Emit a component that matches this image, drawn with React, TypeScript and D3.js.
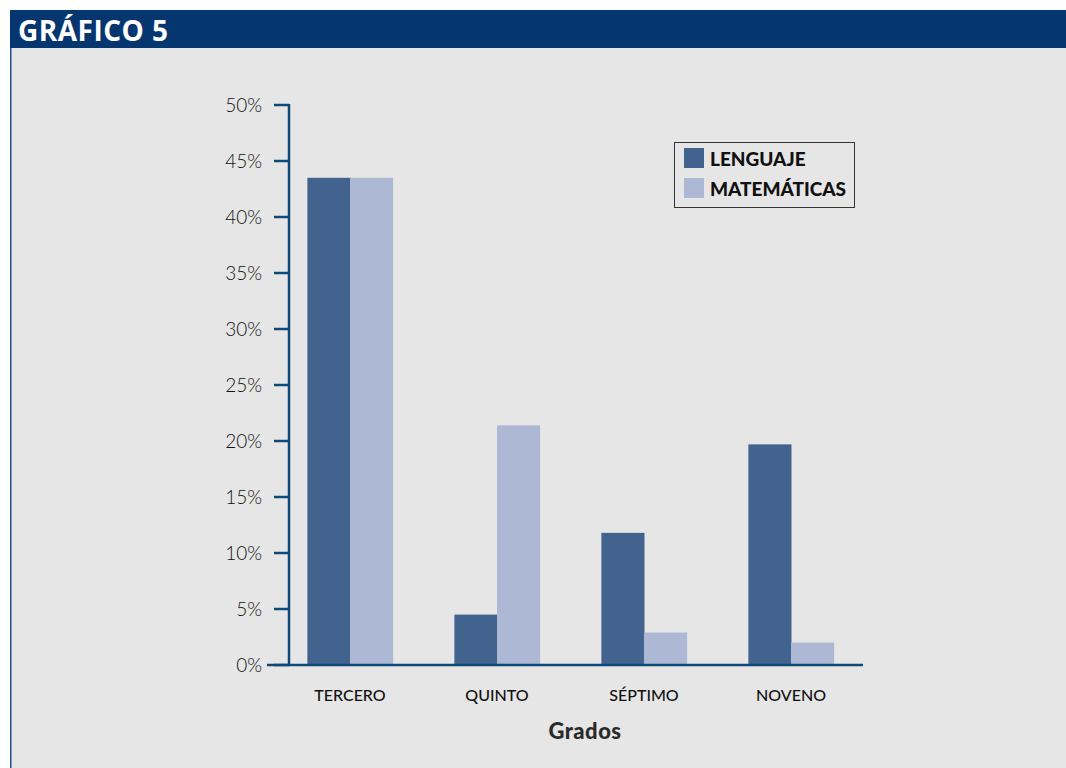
import React from "react";
import * as d3 from "d3";

const categories = ["TERCERO", "QUINTO", "SÉPTIMO", "NOVENO"];
const series = ["LENGUAJE", "MATEMÁTICAS"];
const lenguaje = [43.5, 4.5, 11.8, 19.7];
const matematicas = [43.5, 21.4, 2.9, 2.0];
const yTicks = [0, 5, 10, 15, 20, 25, 30, 35, 40, 45, 50];

const colors = ["#43638f", "#adb8d5"];
const axisColor = "#0d4a78";

export default function App() {
  const W = 1066, H = 768;
  const y = d3.scaleLinear().domain([0, 50]).range([665, 105]);
  const x0 = d3.scaleBand().domain(categories).range([276.5, 864.5]).paddingInner(0.42).paddingOuter(0.21);
  const x1 = d3.scaleBand().domain(series).range([0, x0.bandwidth()]);
  const values = [lenguaje, matematicas];

  return (
    <svg width={W} height={H} style={{ position: "absolute", left: 0, top: 0 }}>
      <rect x={0} y={0} width={W} height={H} fill="#ffffff" />
      <rect x={10} y={48} width={W - 10} height={H - 48} fill="#e6e6e6" />
      <rect x={10} y={48} width={1.5} height={H - 48} fill="#1f4f9a" />
      <rect x={10} y={10} width={W - 10} height={38} fill="#06366f" />
      <text x={18} y={41} fill="#ffffff" fontFamily="'Open Sans', sans-serif" fontWeight={700} fontSize={28} letterSpacing={0.5}>
        GRÁFICO 5
      </text>

      {/* bars */}
      {categories.map((c, i) => (
        <g key={c}>
          {series.map((s, j) => (
            <rect
              key={s}
              x={(x0(c) as number) + (x1(s) as number)}
              y={y(values[j][i])}
              width={x1.bandwidth() + 0.5}
              height={y(0) - y(values[j][i])}
              fill={colors[j]}
            />
          ))}
        </g>
      ))}

      {/* y axis */}
      <line x1={289} x2={289} y1={y(50) - 1} y2={y(0)} stroke={axisColor} strokeWidth={2.5} />
      {yTicks.map((t) => (
        <g key={t}>
          <line x1={274} x2={289} y1={y(t)} y2={y(t)} stroke={axisColor} strokeWidth={2.5} />
          <text
            x={262}
            y={y(t)}
            dy="0.35em"
            textAnchor="end"
            fontFamily="Lato, sans-serif"
            fontWeight={300}
            fontSize={19}
            fill="#111"
          >
            {t}%
          </text>
        </g>
      ))}
      {/* x axis */}
      <line x1={267} x2={863} y1={y(0)} y2={y(0)} stroke={axisColor} strokeWidth={2.5} />
      {categories.map((c) => (
        <text
          key={c}
          x={(x0(c) as number) + x0.bandwidth() / 2}
          y={701}
          textAnchor="middle"
          fontFamily="Lato, sans-serif"
          fontWeight={500}
          fontSize={16}
          fill="#111"
        >
          {c}
        </text>
      ))}
      <text
        x={585}
        y={739}
        textAnchor="middle"
        fontFamily="Lato, sans-serif"
        fontWeight={900}
        fontSize={22}
        letterSpacing={0.5}
        fill="#2a2a2a"
      >
        Grados
      </text>

      {/* legend */}
      <rect x={674.5} y={142.5} width={180} height={65} fill="none" stroke="#333" strokeWidth={1} />
      {series.map((s, j) => (
        <g key={s}>
          <rect x={684} y={148 + j * 30} width={20} height={20} fill={colors[j]} />
          <text
            x={710}
            y={166 + j * 30}
            fontFamily="Lato, sans-serif"
            fontWeight={900}
            fontSize={19}
            fill="#111"
          >
            {s}
          </text>
        </g>
      ))}
    </svg>
  );
}
